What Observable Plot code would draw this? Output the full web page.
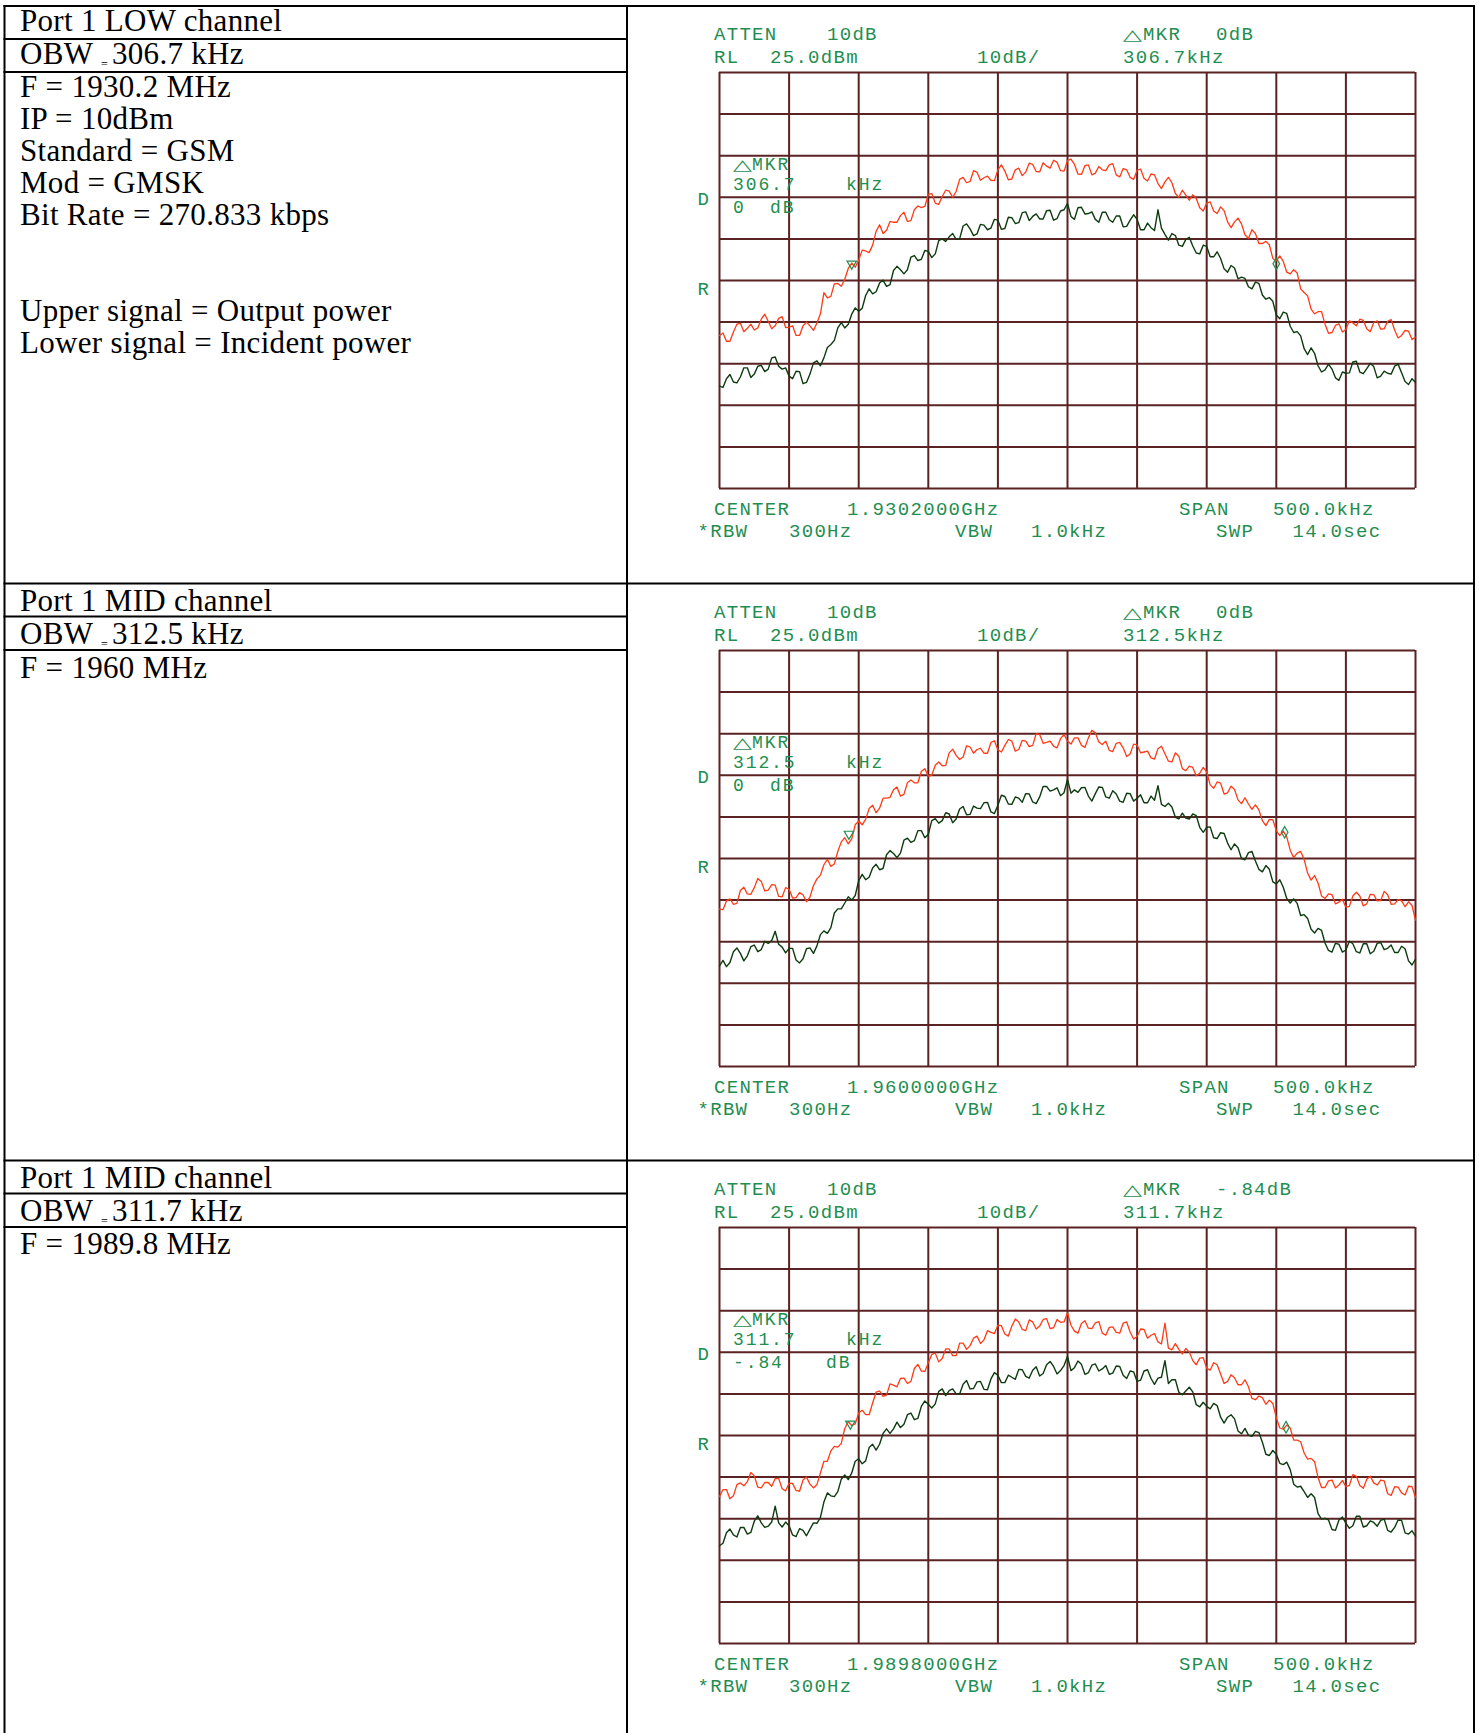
<!DOCTYPE html>
<html><head><meta charset="utf-8">
<script src="https://cdn.jsdelivr.net/npm/d3@7"></script>
<script src="https://cdn.jsdelivr.net/npm/@observablehq/plot@0.6"></script>
<style>
html,body{margin:0;padding:0;background:#fff;}
#page{position:relative;width:1479px;height:1733px;overflow:hidden;background:#fff;}
#page svg.overlay{position:absolute;left:0;top:0;pointer-events:none;}
.panel{position:absolute;}
.serif{font-family:"Liberation Serif","Times New Roman",serif;font-size:31px;letter-spacing:0.3px;fill:#000;}
.sub{font-size:12px;letter-spacing:0;}
.ana{font-family:"Liberation Mono","DejaVu Sans Mono",monospace;font-size:19px;letter-spacing:1.3px;fill:#1f8e50;}
.ana.small{font-size:18px;letter-spacing:1.9px;}
.tri{font-family:"DejaVu Sans",sans-serif;font-size:15px;letter-spacing:0;}
</style></head>
<body><div id="page"></div>
<script>
// ---------- data ----------
const freqOffsetsKHz = [-250,-247.5,-245,-242.5,-240,-237.5,-235,-232.5,-230,-227.5,-225,-222.5,-220,-217.5,-215,-212.5,-210,-207.5,-205,-202.5,-200,-197.5,-195,-192.5,-190,-187.5,-185,-182.5,-180,-177.5,-175,-172.5,-170,-167.5,-165,-162.5,-160,-157.5,-155,-152.5,-150,-147.5,-145,-142.5,-140,-137.5,-135,-132.5,-130,-127.5,-125,-122.5,-120,-117.5,-115,-112.5,-110,-107.5,-105,-102.5,-100,-97.5,-95,-92.5,-90,-87.5,-85,-82.5,-80,-77.5,-75,-72.5,-70,-67.5,-65,-62.5,-60,-57.5,-55,-52.5,-50,-47.5,-45,-42.5,-40,-37.5,-35,-32.5,-30,-27.5,-25,-22.5,-20,-17.5,-15,-12.5,-10,-7.5,-5,-2.5,0,2.5,5,7.5,10,12.5,15,17.5,20,22.5,25,27.5,30,32.5,35,37.5,40,42.5,45,47.5,50,52.5,55,57.5,60,62.5,65,67.5,70,72.5,75,77.5,80,82.5,85,87.5,90,92.5,95,97.5,100,102.5,105,107.5,110,112.5,115,117.5,120,122.5,125,127.5,130,132.5,135,137.5,140,142.5,145,147.5,150,152.5,155,157.5,160,162.5,165,167.5,170,172.5,175,177.5,180,182.5,185,187.5,190,192.5,195,197.5,200,202.5,205,207.5,210,212.5,215,217.5,220,222.5,225,227.5,230,232.5,235,237.5,240,242.5,245,247.5,250];
const freqGridKHz = [-250,-200,-150,-100,-50,0,50,100,150,200,250];
const levelGridDBm = [-75,-65,-55,-45,-35,-25,-15,-5,5,15,25];

const outputPowerLow = [-38.2,-37.6,-39.6,-39.6,-37.4,-35.5,-35.3,-37.3,-36.5,-35.5,
-36.9,-36.4,-34.3,-33.1,-34.8,-36.6,-35.9,-34.1,-33.7,-36.3,
-36.2,-35.9,-38.2,-38.2,-35.9,-35.0,-35.9,-37.0,-35.2,-33.0,
-27.9,-29.2,-28.8,-25.8,-25.7,-26.4,-24.7,-22.1,-20.8,-21.8,
-20.1,-17.7,-17.9,-18.3,-16.5,-13.2,-11.6,-13.7,-12.9,-10.8,
-11.0,-11.0,-9.4,-8.6,-10.8,-10.6,-8.0,-7.1,-7.5,-7.2,
-4.3,-4.1,-6.4,-6.7,-4.8,-3.3,-3.5,-5.0,-3.6,-0.7,
-0.2,-1.5,-1.2,1.4,1.0,-0.9,-0.3,0.1,-0.9,-1.0,
1.6,2.8,1.3,-0.8,-0.6,1.6,2.0,0.2,1.1,3.2,
2.9,1.2,1.1,3.3,2.5,2.0,3.9,3.4,1.4,1.3,
3.8,4.2,2.9,0.6,0.5,2.6,2.8,0.4,0.8,2.4,
1.6,1.4,2.8,3.1,0.4,-0.1,1.9,1.6,-0.2,-0.7,
1.5,1.8,-0.5,-1.1,0.6,0.4,-1.7,-2.9,-1.3,-0.2,
-1.5,-4.1,-5.0,-3.3,-4.5,-5.7,-4.4,-5.3,-7.5,-8.3,
-6.4,-6.1,-8.3,-8.9,-7.3,-8.2,-10.9,-12.3,-10.9,-10.0,
-11.4,-14.0,-14.9,-12.8,-13.7,-16.1,-16.1,-15.6,-16.4,-19.7,
-20.3,-19.1,-20.4,-23.0,-23.4,-22.4,-23.2,-27.0,-27.9,-28.7,
-31.9,-33.0,-32.5,-32.5,-35.5,-37.7,-37.5,-35.8,-35.4,-37.4,
-36.8,-34.7,-35.2,-35.9,-34.3,-34.6,-36.6,-37.3,-35.1,-34.7,
-36.7,-36.6,-34.8,-34.4,-36.9,-38.8,-38.2,-37.0,-37.2,-39.2,
-38.6];
const incidentPowerLow = [-50.4,-50.7,-48.6,-47.6,-49.4,-49.6,-48.2,-46.0,-46.0,-48.3,
-47.5,-45.6,-45.4,-46.9,-46.3,-43.6,-43.4,-45.6,-46.3,-46.0,
-48.0,-48.6,-46.8,-46.9,-49.8,-49.5,-47.5,-44.8,-44.3,-45.5,
-43.6,-41.1,-40.4,-39.4,-36.4,-35.1,-36.4,-35.5,-33.1,-31.6,
-32.4,-31.7,-28.6,-27.0,-28.2,-27.7,-25.6,-24.9,-26.4,-26.0,
-22.6,-21.6,-22.4,-23.4,-22.4,-19.4,-19.0,-20.2,-19.9,-17.8,
-18.0,-19.5,-18.6,-15.4,-15.0,-15.6,-14.5,-13.7,-15.1,-15.0,
-11.9,-11.4,-12.6,-14.2,-13.8,-11.5,-11.7,-12.8,-12.4,-10.3,
-10.5,-12.7,-12.5,-9.8,-9.9,-11.3,-11.1,-8.7,-8.5,-10.6,
-9.6,-9.0,-10.2,-10.2,-8.2,-8.1,-10.5,-10.1,-8.3,-8.0,
-6.5,-9.6,-10.3,-7.5,-7.4,-9.0,-8.9,-8.5,-10.3,-11.0,
-8.6,-8.6,-10.4,-11.0,-9.5,-9.5,-12.1,-12.0,-10.5,-9.2,
-10.3,-12.8,-12.8,-11.2,-12.3,-13.0,-8.0,-12.4,-13.9,-15.3,
-13.7,-14.2,-16.5,-16.8,-15.1,-14.6,-16.7,-18.4,-18.6,-16.5,
-16.8,-19.3,-19.3,-18.1,-19.7,-22.2,-23.0,-21.4,-22.0,-24.6,
-24.2,-24.5,-26.5,-27.0,-25.4,-25.7,-28.5,-29.5,-29.1,-30.0,
-33.3,-34.2,-32.6,-32.9,-36.0,-37.5,-37.3,-38.3,-41.4,-42.8,
-41.2,-42.5,-45.5,-47.0,-46.5,-45.1,-46.3,-48.4,-49.0,-47.0,
-47.3,-47.2,-44.6,-44.4,-47.0,-47.4,-46.2,-44.9,-45.7,-48.4,
-48.0,-46.8,-47.3,-47.5,-45.6,-45.1,-47.2,-49.3,-50.0,-48.6,
-49.5];
const outputPowerMid = [-37.2,-37.3,-35.2,-34.7,-36.0,-35.8,-32.7,-31.9,-33.5,-33.6,
-32.0,-29.8,-30.5,-32.8,-32.6,-31.3,-31.4,-34.1,-34.2,-32.0,
-32.4,-34.5,-34.4,-33.2,-33.7,-35.4,-34.3,-31.5,-29.9,-29.0,
-26.5,-25.2,-26.9,-26.3,-23.3,-21.0,-20.0,-21.5,-20.3,-16.9,
-16.0,-16.9,-15.6,-13.0,-12.2,-14.0,-12.9,-10.5,-10.5,-10.3,
-8.5,-7.8,-10.0,-9.6,-6.8,-6.1,-6.8,-6.8,-4.1,-3.4,
-5.2,-5.0,-2.6,-1.8,-2.7,-2.6,0.4,1.3,-0.2,-1.2,
-0.6,2.1,1.8,0.3,1.2,1.5,0.3,0.3,2.9,3.3,
1.1,0.6,2.2,3.6,3.2,0.8,1.2,3.4,3.2,1.9,
2.2,5.0,4.8,2.7,2.9,3.2,2.0,1.6,3.8,4.8,
3.2,2.5,4.0,4.0,2.2,1.7,4.0,5.8,5.2,3.0,
2.4,3.2,1.0,0.7,2.7,2.9,1.6,-0.5,0.1,2.5,
2.3,0.4,0.6,0.8,-0.8,-1.1,1.4,2.0,0.2,-1.6,
-1.8,0.4,-0.4,-3.4,-3.9,-2.8,-3.1,-5.1,-4.5,-3.1,
-4.2,-7.3,-8.1,-6.6,-6.9,-9.5,-9.2,-7.6,-8.4,-10.9,
-11.8,-10.4,-11.9,-13.2,-12.1,-13.3,-15.9,-17.1,-15.6,-15.7,
-18.3,-19.5,-18.4,-19.8,-23.0,-24.8,-23.7,-23.3,-25.2,-28.5,
-30.2,-29.1,-30.9,-34.0,-34.6,-33.5,-33.7,-35.9,-35.5,-34.8,
-36.7,-36.5,-34.0,-33.1,-34.0,-36.4,-35.9,-33.6,-33.7,-35.2,
-35.1,-32.9,-33.7,-36.0,-35.9,-34.9,-35.2,-36.6,-35.4,-36.3,
-39.8];
const incidentPowerMid = [-50.8,-49.5,-51.0,-50.0,-47.4,-46.5,-47.8,-49.6,-48.4,-46.2,
-45.8,-47.4,-46.9,-44.9,-45.4,-44.7,-42.5,-45.6,-46.3,-47.7,
-46.6,-46.6,-49.4,-50.1,-49.1,-46.7,-46.5,-47.8,-46.0,-43.3,
-42.4,-43.0,-41.6,-38.1,-37.1,-37.1,-35.7,-34.2,-35.0,-33.9,
-30.3,-28.8,-30.1,-29.5,-27.3,-26.4,-27.7,-27.4,-24.1,-23.1,
-23.8,-24.8,-23.7,-20.6,-20.1,-21.1,-20.7,-18.3,-18.3,-20.0,
-19.2,-15.9,-15.4,-16.5,-15.9,-14.0,-14.3,-16.4,-15.5,-13.1,
-12.5,-14.5,-14.4,-12.4,-12.9,-13.0,-11.6,-11.5,-13.8,-14.2,
-12.2,-9.8,-10.1,-11.9,-12.0,-10.2,-10.5,-11.5,-9.4,-9.5,
-11.4,-11.8,-10.2,-7.7,-7.7,-8.8,-8.5,-8.0,-9.9,-9.2,
-6.0,-9.3,-8.5,-9.1,-8.0,-7.9,-10.0,-11.2,-9.4,-7.8,
-7.9,-10.2,-10.5,-8.7,-9.5,-11.2,-11.5,-9.3,-9.4,-11.2,
-10.5,-9.7,-11.6,-11.6,-10.0,-11.0,-7.5,-12.0,-12.5,-11.7,
-12.6,-15.1,-15.5,-14.1,-15.3,-15.5,-14.3,-14.7,-17.5,-18.7,
-17.5,-17.4,-20.0,-20.2,-18.8,-19.0,-21.3,-22.9,-21.5,-22.4,
-25.0,-25.3,-23.6,-23.3,-25.6,-27.6,-28.2,-26.7,-27.6,-30.6,
-31.1,-30.1,-31.9,-34.6,-35.7,-34.7,-35.8,-38.7,-38.5,-39.4,
-42.0,-42.9,-41.8,-42.3,-45.3,-47.1,-47.5,-45.4,-45.6,-47.5,
-47.0,-44.9,-45.5,-47.4,-47.7,-45.5,-45.5,-47.9,-47.3,-45.4,
-45.2,-46.9,-46.6,-45.8,-47.6,-47.6,-46.1,-46.7,-49.6,-50.6,
-49.2];
const outputPower1989 = [-39.7,-38.0,-38.0,-40.2,-39.5,-36.8,-36.4,-37.1,-36.1,-33.9,
-34.7,-37.4,-37.6,-36.3,-36.3,-37.2,-35.4,-35.3,-37.8,-38.3,
-36.5,-36.5,-38.2,-38.4,-35.7,-35.0,-36.7,-37.6,-36.8,-34.0,
-31.2,-31.2,-28.7,-27.6,-27.8,-26.9,-23.3,-21.7,-22.6,-22.2,
-19.6,-18.9,-20.0,-20.0,-17.2,-14.6,-14.3,-15.6,-15.3,-12.6,
-12.9,-13.3,-11.3,-11.2,-12.5,-12.0,-8.9,-7.9,-9.5,-9.6,
-7.5,-5.5,-5.2,-7.3,-6.5,-4.2,-4.2,-5.8,-5.8,-2.8,
-2.8,-4.3,-3.4,-1.6,-1.1,-2.9,-2.0,0.2,-0.2,-0.5,
1.5,1.4,-0.6,-1.1,1.3,3.0,2.3,0.5,0.2,2.8,
2.3,0.6,1.3,2.9,3.1,0.7,0.9,2.9,2.2,2.3,
4.5,1.5,0.1,-0.4,1.9,2.6,0.8,0.7,2.1,2.4,
-0.4,-0.9,1.0,1.1,-0.2,-0.4,2.0,2.3,-0.1,-1.8,
-1.2,0.6,0.5,-1.6,-0.9,-0.5,-2.5,-3.0,2.0,-4.0,
-4.4,-2.9,-4.3,-5.4,-4.1,-4.9,-7.0,-8.0,-6.4,-6.3,
-8.8,-9.3,-7.5,-8.0,-10.2,-12.5,-12.0,-10.4,-11.1,-12.8,
-12.8,-11.6,-13.3,-16.1,-16.4,-15.5,-15.9,-17.5,-16.5,-17.3,
-20.7,-23.2,-23.5,-22.5,-23.2,-26.1,-26.1,-26.5,-29.2,-30.7,
-30.5,-31.3,-35.1,-37.5,-37.5,-35.9,-35.7,-37.6,-36.9,-35.8,
-37.3,-37.0,-34.4,-34.8,-37.0,-37.7,-35.5,-34.8,-36.4,-36.9,
-35.7,-35.9,-39.0,-39.4,-37.3,-37.4,-38.8,-39.3,-37.2,-37.3,
-39.9];
const incidentPower1989 = [-51.5,-50.9,-48.4,-47.5,-48.9,-49.4,-47.1,-47.1,-48.7,-48.3,
-45.6,-44.3,-46.0,-47.1,-46.8,-45.8,-42.0,-46.0,-47.0,-45.8,
-46.7,-48.9,-49.3,-47.4,-47.8,-49.1,-47.5,-46.0,-46.1,-44.7,
-41.0,-38.8,-39.5,-39.7,-38.5,-35.5,-34.5,-35.6,-34.0,-31.2,
-30.6,-31.8,-31.1,-27.9,-27.1,-28.5,-27.1,-24.5,-23.4,-24.5,
-23.4,-21.8,-23.1,-22.3,-20.0,-19.6,-21.2,-20.9,-18.0,-16.7,
-17.5,-18.4,-17.4,-14.4,-13.8,-15.4,-14.2,-13.8,-15.0,-15.0,
-12.7,-11.8,-13.8,-13.7,-12.1,-12.0,-13.9,-14.0,-11.4,-9.9,
-10.5,-12.3,-12.3,-10.5,-11.0,-11.5,-9.1,-9.2,-10.8,-11.2,
-9.3,-8.5,-10.7,-10.1,-8.0,-7.2,-8.4,-10.2,-9.4,-8.2,
-6.0,-9.4,-8.7,-7.1,-7.9,-10.3,-9.9,-8.1,-7.8,-9.5,
-9.0,-8.2,-10.3,-10.0,-8.3,-8.4,-10.5,-11.3,-9.5,-9.7,
-12.0,-11.7,-9.5,-9.2,-11.3,-12.7,-11.2,-11.0,-7.0,-12.5,
-11.6,-11.6,-14.6,-15.2,-14.3,-13.4,-14.5,-17.6,-18.1,-17.0,
-18.0,-18.6,-17.3,-17.8,-20.6,-22.0,-20.6,-20.0,-21.0,-23.9,
-24.6,-23.3,-24.9,-25.2,-24.0,-24.3,-26.6,-29.5,-29.8,-28.6,
-29.5,-31.7,-32.0,-31.4,-33.2,-36.7,-37.4,-37.2,-38.5,-39.9,
-39.0,-39.9,-43.8,-45.1,-44.9,-45.3,-47.6,-47.8,-45.3,-44.6,
-46.1,-47.3,-46.7,-44.4,-44.4,-47.0,-46.7,-45.5,-45.9,-46.8,
-45.4,-45.1,-47.8,-48.2,-47.1,-45.3,-45.4,-48.4,-48.7,-47.9,
-49.2];

const markerLeftKHz = [-155, -157, -156];
const markerLeftDBm = [-21.0, -19.1, -22.2];
const markerRightKHz = [150, 156, 157];
const markerRightDBm = [-21.0, -18.7, -23.0];

const channelTitles = ["Port 1 LOW channel", "Port 1 MID channel", "Port 1 MID channel"];
const obwKHz = ["306.7", "312.5", "311.7"];
const carrierMHz = ["1930.2", "1960", "1989.8"];
const lowChannelNotes = ["IP = 10dBm", "Standard = GSM", "Mod = GMSK", "Bit Rate = 270.833 kbps"];
const signalLegend = ["Upper signal = Output power", "Lower signal = Incident power"];
const markerDeltaDB = ["0", "0", "-.84"];
const centerGHz = ["1.9302000", "1.9600000", "1.9898000"];
const analyzerSettings = {atten: "10dB", refLevel: "25.0dBm", scale: "10dB/", span: "500.0kHz", rbw: "300Hz", vbw: "1.0kHz", sweep: "14.0sec"};

const outputTraces = [outputPowerLow, outputPowerMid, outputPower1989];
const incidentTraces = [incidentPowerLow, incidentPowerMid, incidentPower1989];

// ---------- layout ----------
const GRID = "#5a2222", RED = "#ff3a16", DKGREEN = "#0d3b0f", LABEL = "#1f8e50";
const layout = [
  {rowTop: 6, gridTop: 72, textBase: [31, 64, 97]},
  {rowTop: 583.5, gridTop: 650, textBase: [611, 644, 678]},
  {rowTop: 1160.5, gridTop: 1227, textBase: [1188, 1221, 1254]}
];
const GRID_LEFT = 719, GRID_W = 696, GRID_H = 416, PM = 2;

const page = document.getElementById("page");

function spectrum(i) {
  const out = outputTraces[i], inc = incidentTraces[i];
  const markers = [
    {f: markerLeftKHz[i], v: markerLeftDBm[i], s: "triangle", r: 180},
    {f: markerRightKHz[i], v: markerRightDBm[i], s: "diamond", r: 0}
  ];
  return Plot.plot({
    width: GRID_W + 2 * PM, height: GRID_H + 2 * PM,
    marginTop: PM, marginRight: PM, marginBottom: PM, marginLeft: PM,
    x: {domain: [-250, 250], axis: null},
    y: {domain: [-75, 25], axis: null},
    style: {background: "transparent", overflow: "visible"},
    marks: [
      Plot.ruleX(freqGridKHz, {stroke: GRID, strokeWidth: 2}),
      Plot.ruleY(levelGridDBm, {stroke: GRID, strokeWidth: 2}),
      Plot.line(freqOffsetsKHz, {x: d => d, y: (d, j) => inc[j], stroke: DKGREEN, strokeWidth: 1.4}),
      Plot.line(freqOffsetsKHz, {x: d => d, y: (d, j) => out[j], stroke: RED, strokeWidth: 1.3}),
      Plot.dot(markers, {x: "f", y: "v", symbol: "s", rotate: "r", r: 3.5, stroke: LABEL, strokeWidth: 1.2, fill: "none"})
    ]
  });
}

layout.forEach((L, i) => {
  const chart = spectrum(i);
  chart.classList.add("panel");
  chart.style.left = (GRID_LEFT - PM) + "px";
  chart.style.top = (L.gridTop - PM) + "px";
  chart.style.maxWidth = "none";
  page.appendChild(chart);
});

// ---------- table and annotations ----------
const svg = d3.select(page).append("svg").attr("class", "overlay").attr("width", 1479).attr("height", 1733);
const line = (x1, y1, x2, y2) => svg.append("line").attr("x1", x1).attr("y1", y1).attr("x2", x2).attr("y2", y2).attr("stroke", "#000").attr("stroke-width", 2);
line(4.5, 5, 4.5, 1733);
line(627, 5, 627, 1733);
line(1474, 5, 1474, 1733);
line(3.5, 6, 1475, 6);
layout.forEach((L, i) => {
  if (i > 0) line(3.5, L.rowTop, 1475, L.rowTop);
  line(3.5, L.rowTop + 33, 627, L.rowTop + 33);
  line(3.5, L.gridTop, 627, L.gridTop);
});

// one <text> element per block; items are [x, y, string, extraClass]
function block(cls, items) {
  const t = svg.append("text").attr("class", cls);
  items.forEach(([x, y, s, extra]) => {
    const sp = t.append("tspan").attr("x", x).attr("y", y).text(s);
    if (extra) sp.attr("class", extra);
    if (extra === "tri") sp.attr("textLength", 19).attr("lengthAdjust", "spacingAndGlyphs");
  });
  return t;
}

layout.forEach((L, i) => {
  const [b0, b1, b2] = L.textBase;
  block("serif", [[20, b0, channelTitles[i]]]);
  block("serif", [[20, b1, "OBW"], [101, b1 + 4, "=", "sub"], [112, b1, obwKHz[i] + " kHz"]]);
  block("serif", [[20, b2, "F = " + carrierMHz[i] + " MHz"]]);
  if (i === 0) {
    lowChannelNotes.forEach((s, k) => block("serif", [[20, b2 + 32 * (k + 1), s]]));
    signalLegend.forEach((s, k) => block("serif", [[20, b2 + 32 * (k + 7), s]]));
  }

  const T = L.gridTop, B = T + GRID_H;
  block("ana", [[714, T - 32, "ATTEN"], [827, T - 32, analyzerSettings.atten],
                [1123, T - 32, "\u25B3", "tri"], [1143, T - 32, "MKR"], [1216, T - 32, markerDeltaDB[i] + "dB"]]);
  block("ana", [[714, T - 9.3, "RL"], [770, T - 9.3, analyzerSettings.refLevel],
                [977, T - 9.3, analyzerSettings.scale], [1123, T - 9.3, obwKHz[i] + "kHz"]]);
  block("ana small", [[733, T + 98, "\u25B3", "tri"], [752, T + 98, "MKR"]]);
  block("ana small", [[733, T + 118, obwKHz[i]], [846, T + 118, "kHz"]]);
  block("ana small", [[733, T + 141, markerDeltaDB[i]], [i === 2 ? 826 : 770, T + 141, "dB"]]);
  block("ana", [[697.5, T + 133, "D"]]);
  block("ana", [[697.5, T + 223, "R"]]);
  block("ana", [[714, B + 27, "CENTER"], [847, B + 27, centerGHz[i] + "GHz"],
                [1179, B + 27, "SPAN"], [1273, B + 27, analyzerSettings.span]]);
  block("ana", [[697.5, B + 48.7, "*RBW"], [789, B + 48.7, analyzerSettings.rbw],
                [955, B + 48.7, "VBW"], [1031, B + 48.7, analyzerSettings.vbw],
                [1216, B + 48.7, "SWP"], [1292.5, B + 48.7, analyzerSettings.sweep]]);
});
</script>
</body></html>
